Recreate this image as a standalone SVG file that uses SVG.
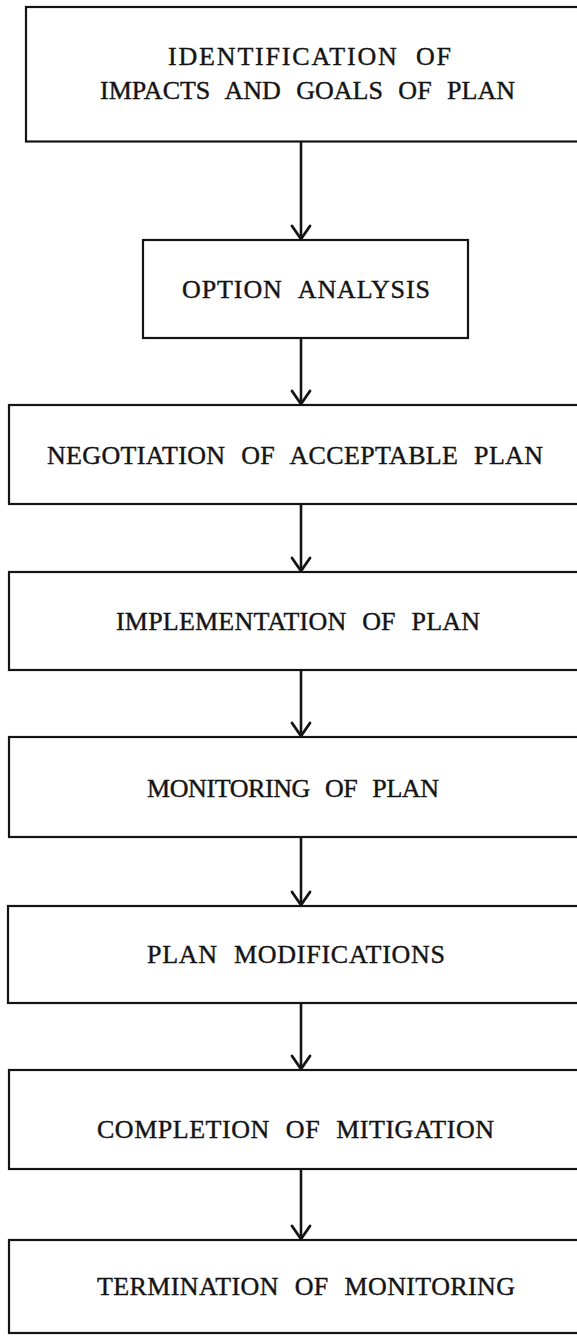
<svg xmlns="http://www.w3.org/2000/svg" width="577" height="1336" viewBox="0 0 577 1336">
<style>
.box{fill:#fff;stroke:#141414;stroke-width:2.2}
.lbl{font-family:"Liberation Serif","Times New Roman",serif;font-size:26px;word-spacing:9px;fill:#141414;stroke:#141414;stroke-width:0.4}
.con{stroke:#141414;stroke-width:2.6;fill:none}
</style>
<defs>
<marker id="arr" markerUnits="userSpaceOnUse" markerWidth="32" markerHeight="32" viewBox="-16 -16 32 32" refX="0" refY="0" orient="auto">
<path d="M-13,-9 L0,0 L-13,9" fill="none" stroke="#141414" stroke-width="2.8" stroke-linejoin="round" stroke-linecap="round"/>
</marker>
</defs>
<rect width="577" height="1336" fill="#fff"/>
<g id="connectors">
<line class="con" x1="301" y1="142" x2="301" y2="239" marker-end="url(#arr)"/>
<line class="con" x1="301" y1="339" x2="301" y2="404" marker-end="url(#arr)"/>
<line class="con" x1="301" y1="505" x2="301" y2="571" marker-end="url(#arr)"/>
<line class="con" x1="301" y1="671" x2="301" y2="736" marker-end="url(#arr)"/>
<line class="con" x1="301" y1="838" x2="301" y2="905" marker-end="url(#arr)"/>
<line class="con" x1="301" y1="1004" x2="301" y2="1069" marker-end="url(#arr)"/>
<line class="con" x1="301" y1="1170" x2="301" y2="1239" marker-end="url(#arr)"/>
</g>
<g id="n1"><rect class="box" x="26" y="7" width="570" height="134.5"/>
<text class="lbl" x="168" y="65" textLength="283" lengthAdjust="spacing">IDENTIFICATION OF</text>
<text class="lbl" x="100" y="98.5" textLength="415" lengthAdjust="spacing">IMPACTS AND GOALS OF PLAN</text></g>
<g id="n2"><rect class="box" x="143" y="240" width="325" height="98"/>
<text class="lbl" x="182" y="298" textLength="248" lengthAdjust="spacing">OPTION ANALYSIS</text></g>
<g id="n3"><rect class="box" x="9" y="405" width="590" height="99"/>
<text class="lbl" x="47" y="463.5" textLength="496" lengthAdjust="spacing">NEGOTIATION OF ACCEPTABLE PLAN</text></g>
<g id="n4"><rect class="box" x="9" y="572" width="590" height="98"/>
<text class="lbl" x="116" y="630" textLength="364" lengthAdjust="spacing">IMPLEMENTATION OF PLAN</text></g>
<g id="n5"><rect class="box" x="9" y="737" width="590" height="100"/>
<text class="lbl" x="147" y="797" textLength="292" lengthAdjust="spacing">MONITORING OF PLAN</text></g>
<g id="n6"><rect class="box" x="8" y="906" width="590" height="97"/>
<text class="lbl" x="147" y="963" textLength="298" lengthAdjust="spacing">PLAN MODIFICATIONS</text></g>
<g id="n7"><rect class="box" x="9" y="1070" width="590" height="99"/>
<text class="lbl" x="97" y="1138" textLength="397" lengthAdjust="spacing">COMPLETION OF MITIGATION</text></g>
<g id="n8"><rect class="box" x="9" y="1240" width="590" height="93"/>
<text class="lbl" x="97" y="1295" textLength="418" lengthAdjust="spacing">TERMINATION OF MONITORING</text></g>
</svg>
